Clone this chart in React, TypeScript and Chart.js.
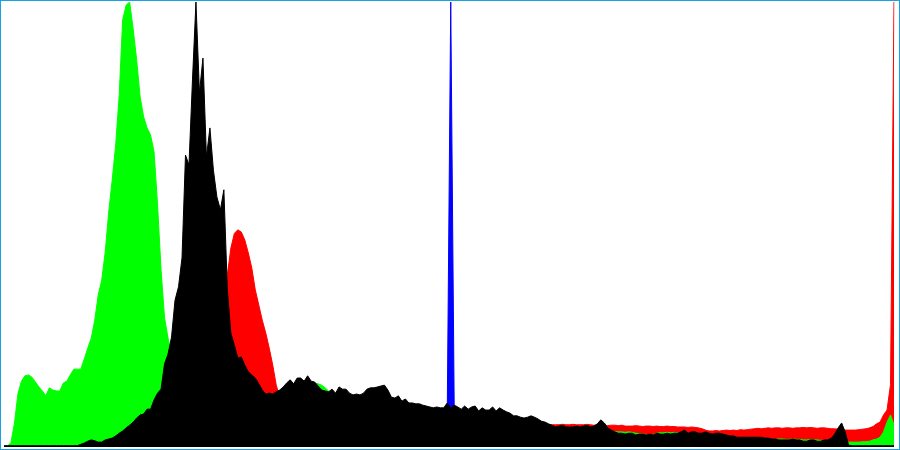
import { useEffect, useRef } from "react"
import { Chart, registerables, type ChartConfiguration } from "chart.js"

Chart.register(...registerables)

// 256 histogram bins, each channel scaled to its own peak (0-100)
const bins = Array.from({ length: 256 }, (_, i) => String(i))

const luminance = [
  0.3, 0.3, 0.3, 0.3, 0.3, 0.3, 0.3, 0.3, 0.3, 0.3, 0.3, 0.3, 0.3, 0.3, 0.3, 0.3,
  0.3, 0.3, 0.3, 0.3, 0.3, 0.3, 0.6, 0.9, 1.3, 1.6, 1.4, 1.1, 1.1, 1.6, 1.8, 2,
  2.5, 3.1, 3.6, 4.3, 4.9, 5.6, 6.5, 7.2, 7.4, 8.5, 8.5, 10.6, 12.1, 13, 18.7, 20.9,
  24.7, 33, 36, 42.5, 65.6, 63.4, 82.5, 100, 79.6, 87.4, 65.2, 71.7, 62.2, 56.2, 53.3, 57.8,
  35.3, 25.6, 22.9, 20, 20.2, 18.4, 16.9, 16.2, 15.5, 14.2, 12.8, 11.9, 12.1, 11.9, 12.4, 12.8,
  13.5, 14.4, 15.1, 14.2, 15.5, 15.5, 14.8, 16, 14.8, 14.6, 13.7, 12.8, 12.6, 12.4, 13, 12.1,
  13.5, 13, 13, 12.1, 11.7, 11.9, 11.7, 12.1, 13, 13.3, 13.3, 13.5, 13.7, 13.9, 12.8, 11.2,
  11, 11.5, 10.3, 10.8, 9.9, 9.9, 9.7, 9.7, 9.4, 9.2, 9, 8.8, 9, 8.8, 8.8, 9.9,
  8.8, 9.4, 9, 8.5, 9.2, 8.5, 9, 9.2, 8.1, 8.8, 8.3, 8.3, 9, 8.1, 8.8, 8.3,
  7.9, 7.6, 7, 7, 6.7, 6.5, 6.7, 7, 6.7, 6.3, 5.8, 5.6, 5.2, 4.9, 4.5, 4.7,
  4.9, 4.5, 4.5, 4.5, 4.7, 4.5, 4.7, 4.9, 4.5, 4.7, 5.2, 6.1, 5.4, 4.3, 3.8, 3.4,
  3.1, 3.1, 2.9, 3.1, 3.1, 2.7, 2.9, 2.9, 2.7, 2.9, 2.7, 3.1, 2.9, 2.9, 3.1, 2.9,
  3.1, 3.1, 3.4, 3.8, 3.1, 3.4, 3.4, 3.1, 3.1, 3.4, 3.1, 2.9, 3.1, 3.1, 2.9, 2.7,
  2.5, 2.5, 2.2, 2.2, 2.2, 2.2, 2.2, 2.2, 2.2, 2.2, 2, 2, 1.8, 1.8, 1.6, 1.6,
  1.6, 1.6, 1.8, 1.6, 1.6, 1.3, 1.3, 1.6, 1.6, 1.3, 1.3, 1.6, 1.6, 2, 2.9, 4.3,
  5.4, 3.4, 0.4, 0.3, 0.3, 0.3, 0.3, 0.3, 0.3, 0.3, 0.3, 0.3, 0.3, 0.3, 0.3, 0.3,
]

const blue = [
  0, 0, 0, 0, 0, 0, 0, 0, 0, 0, 0, 0, 0, 0, 0, 0,
  0, 0, 0, 0, 0, 0, 0, 0, 0, 0, 0, 0, 0, 0, 0, 0,
  0, 0, 0, 0, 0, 0, 0, 0, 0, 0, 0, 0, 0, 0, 0, 0,
  0, 0, 0, 0, 0, 0, 0, 0, 0, 0, 0, 0, 0, 0, 0, 0,
  0, 0, 0, 0, 0, 0, 0, 0, 0, 0, 0, 0, 0, 0, 0, 0,
  0, 0, 0, 0, 0, 0, 0, 0, 0, 0, 0, 0, 0, 0, 0, 0,
  0, 0, 0, 0, 0, 0, 0, 0, 0, 0, 0, 0, 0, 0, 0, 0,
  0, 0, 0, 0, 0, 0, 0, 0, 0, 0, 0, 0, 0, 0, 0, 8,
  100, 8, 0, 0, 0, 0, 0, 0, 0, 0, 0, 0, 0, 0, 0, 0,
  0, 0, 0, 0, 0, 0, 0, 0, 0, 0, 0, 0, 0, 0, 0, 0,
  0, 0, 0, 0, 0, 0, 0, 0, 0, 0, 0, 0, 0, 0, 0, 0,
  0, 0, 0, 0, 0, 0, 0, 0, 0, 0, 0, 0, 0, 0, 0, 0,
  0, 0, 0, 0, 0, 0, 0, 0, 0, 0, 0, 0, 0, 0, 0, 0,
  0, 0, 0, 0, 0, 0, 0, 0, 0, 0, 0, 0, 0, 0, 0, 0,
  0, 0, 0, 0, 0, 0, 0, 0, 0, 0, 0, 0, 0, 0, 0, 0,
  0, 0, 0, 0, 0, 0, 0, 0, 0, 0, 0, 0, 0, 0, 0, 0,
]

const green = [
  0, 0.2, 1, 5.4, 12, 14.8, 16, 16.2, 15.7, 14.6, 13.5, 12.6, 11.5, 13.3, 12.8, 12.6,
  12.6, 14.4, 14.8, 16.2, 17.5, 17.5, 17.5, 19.8, 22.2, 24.5, 28.5, 34.2, 37.5, 43.8, 52.8, 60,
  67.9, 79, 96, 99.3, 100, 94, 87, 78.7, 74.2, 71.7, 70.1, 66.3, 54.4, 39.8, 29, 24.5,
  20.5, 17.3, 14.6, 12.4, 10.6, 9.4, 8.3, 8, 7.8, 7.6, 7.4, 7.2, 7, 7, 7, 7.2,
  7.4, 7.6, 8, 8.3, 8.6, 9, 9.3, 9.6, 10, 10.3, 10.6, 10.8, 11, 11.2, 11.5, 11.8,
  12.2, 12.6, 13, 13.2, 13.5, 13.7, 13.9, 14, 14, 14.3, 14.2, 13.9, 13.3, 12.6, 12.3, 12,
  11.8, 11.7, 11.6, 11.4, 11.2, 11.1, 11, 11, 11, 10.9, 10.8, 10.7, 10.6, 10.5, 10.4, 10.2,
  10, 9.8, 9.6, 9.4, 9.2, 9, 8.9, 8.8, 8.7, 8.6, 8.4, 8.3, 8.2, 8.1, 8, 8,
  7.9, 7.8, 7.7, 7.6, 7.5, 7.4, 7.3, 7.2, 7.1, 7, 7, 6.9, 6.8, 6.7, 6.6, 6.5,
  6.4, 6.2, 6, 5.9, 5.8, 5.6, 5.5, 5.4, 5.3, 5.1, 4.9, 4.7, 4.5, 4.3, 4.1, 4,
  3.9, 3.9, 3.8, 3.8, 3.7, 3.7, 3.6, 3.6, 3.6, 3.5, 3.5, 3.5, 3.5, 3.5, 3.4, 3.4,
  3.4, 3.4, 3.3, 3.4, 3.3, 3.1, 3, 2.9, 2.8, 2.8, 2.8, 3.1, 3.2, 3.2, 3.3, 3.2,
  3.3, 3.2, 3, 2.9, 2.8, 2.7, 2.6, 2.6, 2.5, 2.5, 2.4, 2.4, 2.3, 2.3, 2.2, 2.2,
  2.1, 2.1, 2, 2, 2, 1.9, 1.9, 1.9, 1.9, 1.8, 1.8, 1.8, 1.7, 1.7, 1.8, 1.8,
  1.7, 1.7, 1.8, 1.7, 1.7, 1.6, 1.6, 1.7, 1.6, 1.6, 1.5, 1.5, 1.5, 1.4, 1.4, 1.3,
  1.2, 1.2, 1.1, 1.1, 1.1, 1.1, 1.2, 1.2, 1.3, 1.6, 1.8, 2.2, 3.4, 5.6, 7.2, 5,
]

const red = [
  0, 0, 0.1, 0.2, 0.3, 0.4, 0.5, 0.5, 0.6, 0.6, 0.7, 0.7, 0.8, 0.8, 0.9, 0.9,
  1, 1, 1.1, 1.1, 1.2, 1.2, 1.3, 1.3, 1.4, 1.4, 1.5, 1.5, 1.6, 1.6, 1.7, 1.8,
  1.9, 2, 2.1, 2.2, 2.3, 2.4, 2.5, 2.6, 2.7, 2.8, 3, 3.2, 3.4, 3.6, 3.8, 4,
  4.3, 4.6, 5, 5.4, 5.8, 6.2, 6.6, 7, 7.5, 8, 8.6, 9.4, 10.5, 12.5, 16, 24,
  38.7, 44.7, 48, 48.8, 48.3, 46.5, 43.6, 40.2, 35.3, 31.9, 28.5, 25.6, 22.2, 18.4, 13.9, 11.2,
  10.5, 10.4, 10.3, 10.2, 10.1, 10, 9.9, 9.8, 9.7, 9.6, 9.5, 9.4, 9.4, 9.3, 9.3, 9.2,
  9.2, 9.1, 9.1, 9, 9, 8.9, 8.9, 8.8, 8.8, 8.7, 8.7, 8.6, 8.5, 8.5, 8.4, 8.3,
  8.3, 8.2, 8.1, 8, 7.9, 7.9, 7.8, 7.8, 7.7, 7.6, 7.6, 7.5, 7.5, 7.4, 7.4, 7.3,
  7.3, 7.2, 7.1, 7.1, 7, 7, 6.9, 6.8, 6.8, 6.7, 6.6, 6.6, 6.5, 6.4, 6.4, 6.3,
  6.2, 6.1, 6, 5.9, 5.8, 5.7, 5.6, 5.5, 5.4, 5.3, 5.2, 5.1, 5, 5, 5, 5,
  5.1, 5, 5, 5.1, 5, 5, 5, 5.1, 5, 4.9, 4.9, 4.9, 4.9, 4.8, 4.9, 4.9,
  4.8, 4.9, 4.7, 4.7, 4.7, 4.8, 4.7, 4.6, 4.7, 4.7, 4.6, 4.7, 4.6, 4.6, 4.7, 4.6,
  4.6, 4.5, 4.5, 4.5, 4.4, 4.5, 4.4, 4.3, 4.1, 3.8, 3.6, 3.6, 3.7, 3.6, 3.7, 3.8,
  3.7, 3.8, 3.7, 3.9, 3.8, 3.9, 4, 4.1, 4.2, 4.1, 4.2, 4.3, 4.2, 4.3, 4.3, 4.2,
  4.3, 4.3, 4.2, 4.3, 4.3, 4.4, 4.3, 4.4, 4.3, 4.2, 4.3, 4.3, 4.2, 4.1, 4.1, 4,
  3.9, 3.8, 3.8, 3.8, 3.8, 3.9, 4, 4.1, 4.3, 4.6, 5.2, 5.6, 7.2, 8.3, 14, 100,
]

function area(label: string, data: number[], color: string) {
  return {
    label,
    data,
    fill: "origin" as const,
    backgroundColor: color,
    borderColor: color,
    borderWidth: 1,
    pointRadius: 0,
    tension: 0,
  }
}

export default function App() {
  const chartRef = useRef<HTMLCanvasElement>(null)
  const chartInstance = useRef<Chart | null>(null)

  useEffect(() => {
    if (!chartRef.current) return
    const ctx = chartRef.current.getContext("2d")
    if (!ctx) return

    if (chartInstance.current) {
      chartInstance.current.destroy()
    }

    // first dataset is drawn on top
    const config: ChartConfiguration<"line"> = {
      type: "line",
      data: {
        labels: bins,
        datasets: [
          area("Luminance", luminance, "#000000"),
          area("Blue", blue, "#0000ff"),
          area("Green", green, "#00ff00"),
          area("Red", red, "#ff0000"),
        ],
      },
      options: {
        responsive: true,
        maintainAspectRatio: false,
        animation: false,
        events: [],
        layout: { padding: { left: 3, right: 5, top: 1, bottom: 2 } },
        scales: {
          x: { display: false },
          y: { display: false, min: 0, max: 100 },
        },
        plugins: {
          legend: { display: false },
          tooltip: { enabled: false },
        },
      },
    }

    chartInstance.current = new Chart(ctx, config)

    return () => {
      if (chartInstance.current) {
        chartInstance.current.destroy()
        chartInstance.current = null
      }
    }
  }, [])

  return (
    <div
      style={{
        position: "absolute",
        left: 0,
        top: 0,
        width: 900,
        height: 450,
        boxSizing: "border-box",
        border: "1px solid #1ba1e2",
        background: "#fff",
      }}
    >
      <canvas ref={chartRef} />
    </div>
  )
}
